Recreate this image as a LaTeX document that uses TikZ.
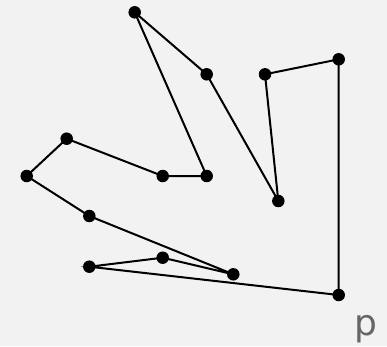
\documentclass[tikz,border=0pt]{standalone}
\usepackage{fontspec}
\setmainfont{DejaVu Sans}
\definecolor{bg}{HTML}{F2F2F2}
\definecolor{lbl}{HTML}{666666}
\begin{document}
\begin{tikzpicture}[x=1pt,y=-1pt,
  pt/.style={circle,fill=black,inner sep=0pt,minimum size=12.5pt},
  edge/.style={line width=2pt,black}]
\fill[bg] (0,0) rectangle (387,346);
\useasboundingbox (0,0) rectangle (387,346);
\node[pt] (a) at (134.7,12.3) {};
\node[pt] (b) at (206.7,74.3) {};
\node[pt] (c) at (278.3,201) {};
\node[pt] (d) at (265,74.3) {};
\node[pt] (e) at (338.7,59.3) {};
\node[pt] (f) at (338.7,295) {};
\node[pt] (g) at (89.3,266.7) {};
\node[pt] (h) at (162.7,257.7) {};
\node[pt] (i) at (233.3,274.3) {};
\node[pt] (j) at (89.3,216) {};
\node[pt] (k) at (26.7,176) {};
\node[pt] (l) at (66.7,138.7) {};
\node[pt] (m) at (162.7,176) {};
\node[pt] (n) at (206.7,176) {};
\draw[edge] (a.center) -- (b.center) -- (c.center) -- (d.center) -- (e.center) -- (f.center) -- (g.center) -- (h.center) -- (i.center) -- (j.center) -- (k.center) -- (l.center) -- (m.center) -- (n.center) -- cycle;
\node[text=lbl,font=\fontsize{36}{40}\selectfont,inner sep=0pt] (p) at (366,329) {p};
\end{tikzpicture}
\end{document}
